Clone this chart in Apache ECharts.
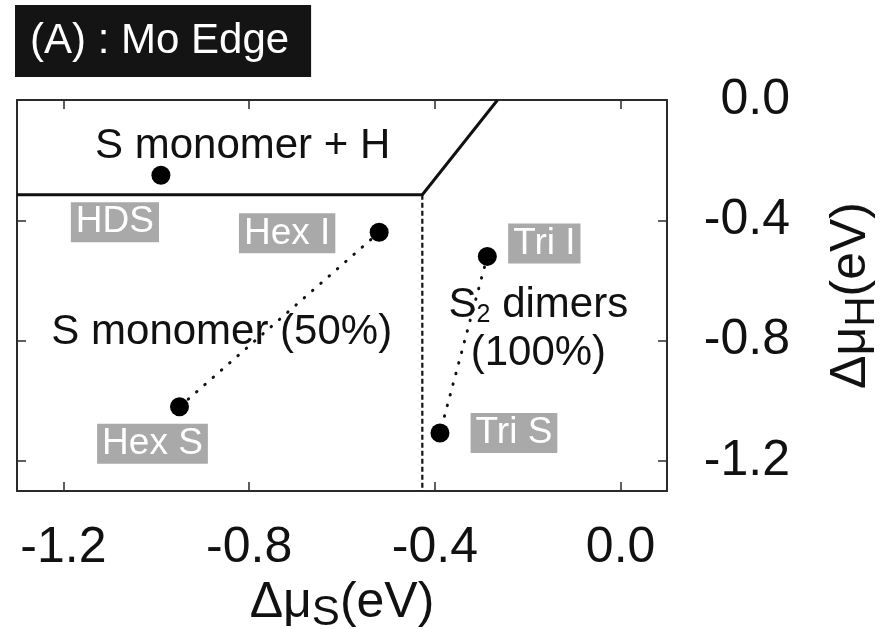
<!DOCTYPE html>
<html>
<head>
<meta charset="utf-8">
<script src="https://cdn.jsdelivr.net/npm/echarts@6/dist/echarts.min.js"></script>
<style>
  html, body { margin: 0; padding: 0; background: #fff; }
  #chart { width: 893px; height: 629px; }
</style>
</head>
<body>
<div id="chart"></div>
<script>
// Tick positions (eV)
const xTicks = [-1.2, -0.8, -0.4, 0.0];
const yTicks = [0.0, -0.4, -0.8, -1.2];

// Adsorption sites: chemical potentials of S and H (eV)
const siteNames = ['HDS', 'Hex I', 'Hex S', 'Tri I', 'Tri S'];
const siteMuS = [-0.99, -0.52, -0.95, -0.287, -0.389];
const siteMuH = [-0.25, -0.44, -1.02, -0.52, -1.107];

// Phase boundaries
const boundaryMuS = [-1.3, -0.427, -0.265];
const boundaryMuH = [-0.315, -0.315, 0.0];
const dimerEdgeMuS = [-0.427, -0.427];
const dimerEdgeMuH = [-0.315, -1.3];

// Region names and their anchor points
const regionNames = ['S monomer + H', 'S monomer (50%)', 'S2 dimers (100%)'];
const regionMuS = [-0.814, -0.859, -0.177];
const regionMuH = [-0.156, -0.772, -0.762];

const FONT = '"Liberation Sans", Arial, Helvetica, sans-serif';
const fmt = v => v.toFixed(1);
const pts = (xs, ys) => xs.map((x, i) => [x, ys[i]]);

// Label placement for the site tags, in pixels relative to the dot
const tagOffsets = [[-46, 47], [-92, 1], [-27, 37], [57, -13], [74, 0]];

const regionLabels = [
  '{t|S monomer + H}',
  '{t|S monomer (50%)}',
  '{t|S}{sub|2}{t| dimers}\n{t|(100%)}'
];

const chart = echarts.init(document.getElementById('chart'), null, { renderer: 'canvas' });

const frameLine = { show: true, onZero: false, lineStyle: { color: '#2a2a2a', width: 2 } };
const tickIn = (vals) => ({ show: true, inside: true, length: 9, customValues: vals, lineStyle: { color: '#2a2a2a', width: 1.5 } });

chart.setOption({
  animation: false,
  backgroundColor: '#fff',
  textStyle: { fontFamily: FONT },
  title: {
    text: '(A) : Mo Edge',
    left: 15, top: 5,
    backgroundColor: '#141414',
    padding: [15, 22, 15, 15],
    textStyle: { color: '#fff', fontSize: 42, fontWeight: 'normal', fontFamily: FONT }
  },
  grid: { left: 17, right: 226, top: 100, bottom: 138, containLabel: false, outerBoundsMode: 'none' },
  xAxis: [
    {
      type: 'value', min: -1.3, max: 0.1, position: 'bottom',
      axisLine: frameLine,
      axisTick: tickIn(xTicks),
      splitLine: { show: false },
      axisLabel: {
        customValues: xTicks, formatter: fmt, margin: 32,
        fontSize: 50, color: '#111', fontFamily: FONT
      },
      name: '{d|Δμ}{s|S}{d|(eV)}',
      nameLocation: 'middle', nameGap: 72,
      nameTextStyle: {
        rich: {
          d: { fontSize: 50, color: '#111', fontFamily: FONT },
          s: { fontSize: 42, color: '#111', fontFamily: FONT, padding: [22, 0, 0, 0] }
        }
      }
    },
    {
      type: 'value', min: -1.3, max: 0.1, position: 'top',
      axisLine: frameLine,
      axisTick: tickIn(xTicks),
      axisLabel: { show: false },
      splitLine: { show: false }
    }
  ],
  yAxis: [
    {
      type: 'value', min: -1.3, max: 0.0, position: 'right',
      axisLine: frameLine,
      axisTick: tickIn(yTicks),
      splitLine: { show: false },
      axisLabel: {
        customValues: yTicks, formatter: fmt, margin: 123, align: 'right',
        fontSize: 50, color: '#111', fontFamily: FONT
      },
      name: '{d|Δμ}{s|H}{d|(eV)}',
      nameLocation: 'middle', nameGap: 152, nameRotate: 90,
      nameTextStyle: {
        rich: {
          d: { fontSize: 50, color: '#111', fontFamily: FONT },
          s: { fontSize: 42, color: '#111', fontFamily: FONT, padding: [22, 0, 0, 0] }
        }
      }
    },
    {
      type: 'value', min: -1.3, max: 0.0, position: 'left',
      axisLine: frameLine,
      axisTick: tickIn(yTicks),
      axisLabel: { show: false },
      splitLine: { show: false }
    }
  ],
  series: [
    {
      // boundary between S monomer + H and the other phases
      type: 'line', data: pts(boundaryMuS, boundaryMuH),
      symbol: 'none', silent: true,
      lineStyle: { color: '#111', width: 3 }, z: 3
    },
    {
      // boundary of the S2 dimer phase
      type: 'line', data: pts(dimerEdgeMuS, dimerEdgeMuH),
      symbol: 'none', silent: true,
      lineStyle: { color: '#111', width: 2.2, type: [5, 3] }, z: 3
    },
    {
      // Hex I – Hex S connector
      type: 'line', data: [[siteMuS[1], siteMuH[1]], [siteMuS[2], siteMuH[2]]],
      symbol: 'none', silent: true,
      lineStyle: { color: '#111', width: 3, type: [0.5, 10.5], cap: 'round' }, z: 3
    },
    {
      // Tri I – Tri S connector
      type: 'line', data: [[siteMuS[3], siteMuH[3]], [siteMuS[4], siteMuH[4]]],
      symbol: 'none', silent: true,
      lineStyle: { color: '#111', width: 3, type: [0.5, 10.5], cap: 'round' }, z: 3
    },
    {
      // adsorption sites
      type: 'scatter', symbol: 'circle', symbolSize: 19, z: 5,
      itemStyle: { color: '#000', opacity: 1 },
      data: siteNames.map((n, i) => ({
        name: n,
        value: [siteMuS[i], siteMuH[i]],
        label: {
          show: true, position: 'inside', offset: tagOffsets[i],
          formatter: n,
          color: '#fff', fontSize: 37, lineHeight: 38, fontFamily: FONT,
          backgroundColor: '#a9a9a9', padding: [1, 5, 1, 5]
        }
      }))
    },
    {
      // phase region names
      type: 'scatter', symbol: 'circle', symbolSize: 1, silent: true, z: 4,
      itemStyle: { color: 'rgba(0,0,0,0)', opacity: 1 },
      data: regionNames.map((n, i) => ({
        name: n,
        value: [regionMuS[i], regionMuH[i]],
        label: {
          show: true, position: 'inside', align: 'center', verticalAlign: 'middle',
          formatter: regionLabels[i],
          color: '#111',
          rich: {
            t: { fontSize: 42, lineHeight: 48, color: '#111', fontFamily: FONT },
            sub: { fontSize: 25, lineHeight: 48, color: '#111', fontFamily: FONT, padding: [20, 0, 0, 0] }
          }
        }
      }))
    }
  ]
});
</script>
</body>
</html>
